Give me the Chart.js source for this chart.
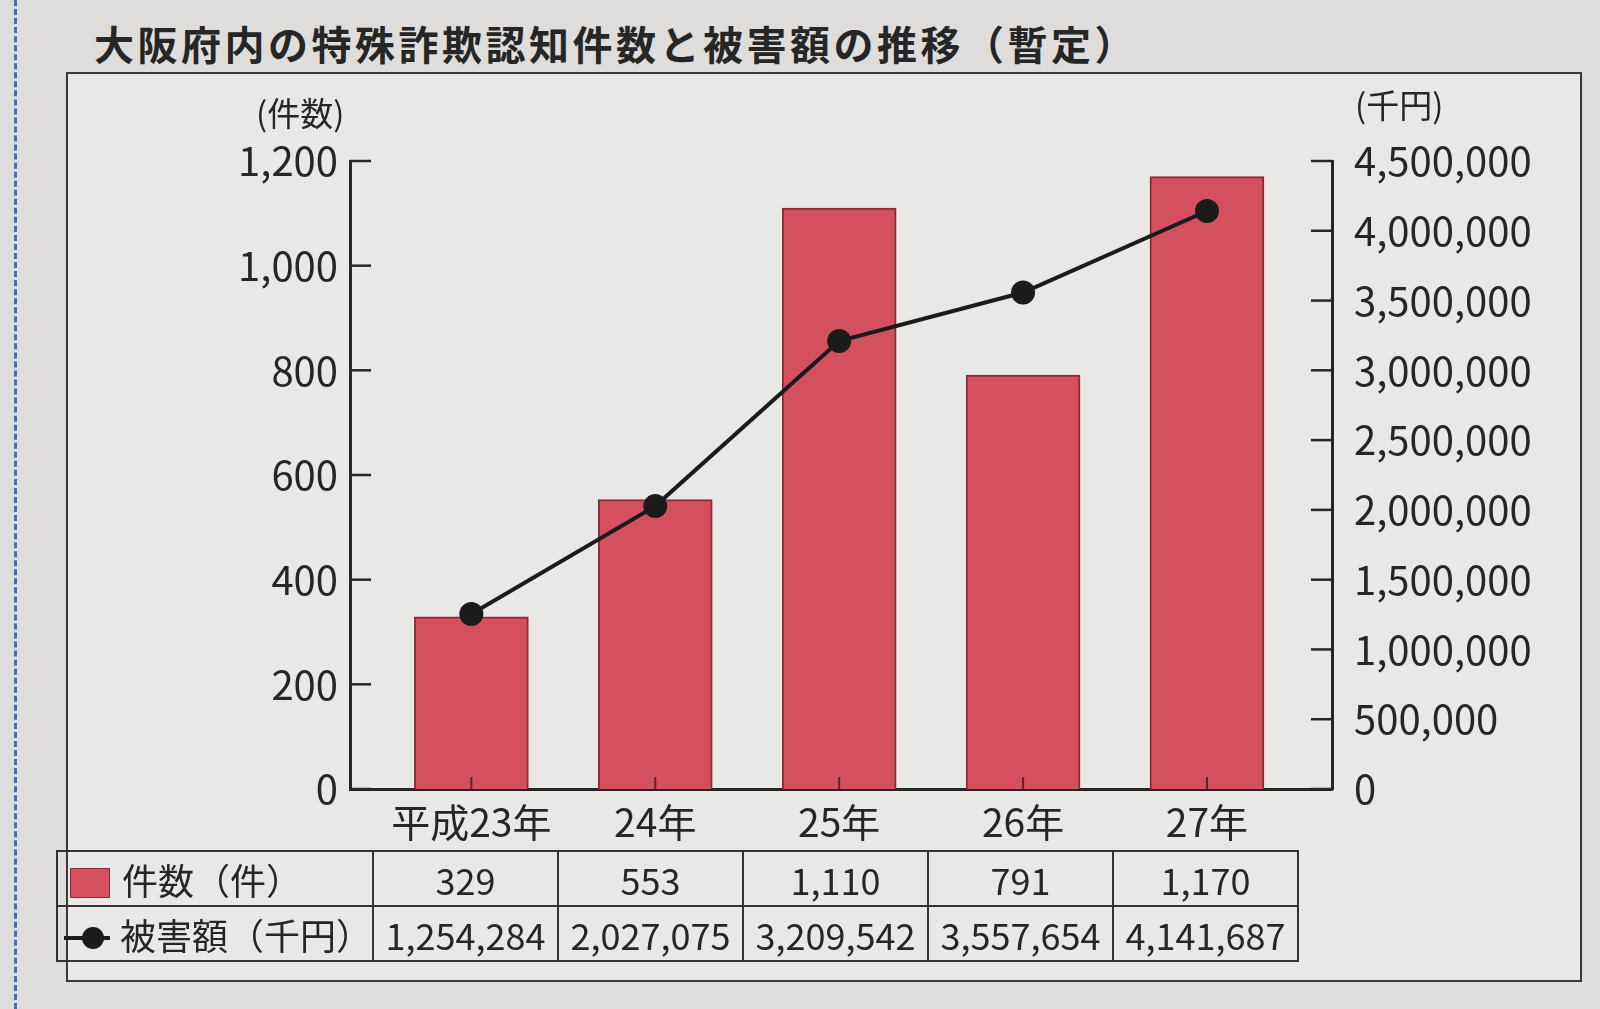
<!DOCTYPE html>
<html lang="ja">
<head>
    <meta charset="UTF-8">
    <title>大阪府内の特殊詐欺認知件数と被害額の推移</title>
    <script src="https://cdn.jsdelivr.net/npm/chart.js"></script>
    <style>
        html, body { margin: 0; padding: 0; }
        body {
            width: 1600px; height: 1009px; position: relative; overflow: hidden;
            background: #dedddb;
            font-family: 'Noto Sans CJK JP', 'Noto Sans', sans-serif;
            color: #262626;
        }
        #edge { position: absolute; left: 14px; top: 0; height: 1009px; border-left: 3px dashed #3a6fc4; }
        #title { position: absolute; left: 94px; top: 14px; font-size: 40px; font-weight: bold; letter-spacing: 3.5px; }
        #frame { position: absolute; left: 66px; top: 72px; width: 1512px; height: 906px; border: 2px solid #3a3a3a; background: #e8e8e6; }
        #wrap { position: absolute; left: 0; top: 0; }
        .unit { position: absolute; font-size: 33px; }
        #unitL { left: 256px; top: 88px; }
        #unitR { left: 1355px; top: 80px; }
        #datatable { position: absolute; left: 56px; top: 850px; border-collapse: collapse; font-size: 36px; }
        #datatable td { border: 2px solid #333; height: 53px; padding: 0; text-align: center; width: 183px; }
        #datatable td.head { width: 314px; text-align: left; white-space: nowrap; }
        .swatch { display: inline-block; width: 38px; height: 28px; background: #d4505f; border: 1px solid #8c2a35; margin: 0 12px 0 12px; vertical-align: -3px; }
        .lineKey { display: inline-block; position: relative; width: 46px; height: 4px; background: #1b1b1b; margin: 0 10px 0 6px; vertical-align: 10px; }
        .lineKey::after { content: ''; position: absolute; left: 18px; top: -9px; width: 22px; height: 22px; border-radius: 50%; background: #1b1b1b; }
    </style>
</head>
<body>
<div id="edge"></div>
<div id="title">大阪府内の特殊詐欺認知件数と被害額の推移（暫定）</div>
<div id="frame"></div>
<div id="wrap"><canvas id="chart" width="1600" height="1009"></canvas></div>
<div class="unit" id="unitL">(件数)</div>
<div class="unit" id="unitR">(千円)</div>
<table id="datatable"></table>

<script>
    const years = ['平成23年', '24年', '25年', '26年', '27年'];
    const counts = [329, 553, 1110, 791, 1170];
    const damage = [1254284, 2027075, 3209542, 3557654, 4141687];
    const countTicks = [0, 200, 400, 600, 800, 1000, 1200];
    const damageTicks = [0, 500000, 1000000, 1500000, 2000000, 2500000, 3000000, 3500000, 4000000, 4500000];

    const fmt = v => v.toLocaleString('en-US');
    const font = { family: "'Noto Sans CJK JP', 'Noto Sans', sans-serif", size: 40 };
    const ink = '#262626';

    // table under the chart
    const table = document.getElementById('datatable');
    const row1 = table.insertRow();
    const h1 = row1.insertCell();
    h1.className = 'head';
    h1.innerHTML = '<span class="swatch"></span>件数（件）';
    counts.forEach(v => { row1.insertCell().textContent = fmt(v); });
    const row2 = table.insertRow();
    const h2 = row2.insertCell();
    h2.className = 'head';
    h2.innerHTML = '<span class="lineKey"></span>被害額（千円）';
    damage.forEach(v => { row2.insertCell().textContent = fmt(v); });

    // short tick marks drawn inward from the axis lines
    const tickMarks = {
        id: 'tickMarks',
        afterDatasetsDraw(chart) {
            const { ctx, scales: { x, y, y2 } } = chart;
            ctx.save();
            ctx.lineWidth = 2.5;
            ctx.strokeStyle = '#262626';
            y.ticks.forEach(t => {
                const py = y.getPixelForValue(t.value);
                ctx.beginPath(); ctx.moveTo(y.right, py); ctx.lineTo(y.right + 21, py); ctx.stroke();
            });
            y2.ticks.forEach(t => {
                const py = y2.getPixelForValue(t.value);
                ctx.beginPath(); ctx.moveTo(y2.left - 21, py); ctx.lineTo(y2.left, py); ctx.stroke();
            });
            ctx.strokeStyle = '#6a1e28';
            ctx.lineWidth = 2;
            x.ticks.forEach(t => {
                const px = x.getPixelForValue(t.value);
                ctx.beginPath(); ctx.moveTo(px, x.top); ctx.lineTo(px, x.top - 12); ctx.stroke();
            });
            ctx.restore();
        }
    };

    const ctx = document.getElementById('chart').getContext('2d');
    new Chart(ctx, {
        data: {
            datasets: [
                {
                    type: 'line',
                    label: '被害額（千円）',
                    data: damage.map((v, i) => ({ x: i, y: v })),
                    yAxisID: 'y2',
                    order: 0,
                    borderColor: '#1b1b1b',
                    borderWidth: 4,
                    pointRadius: 12,
                    pointBackgroundColor: '#1b1b1b',
                    pointBorderWidth: 0,
                    tension: 0
                },
                {
                    type: 'bar',
                    label: '件数（件）',
                    data: counts.map((v, i) => ({ x: i, y: v })),
                    yAxisID: 'y',
                    order: 1,
                    backgroundColor: '#d4505f',
                    borderColor: '#8c2a35',
                    borderWidth: 2,
                    barThickness: 114
                }
            ]
        },
        options: {
            responsive: false,
            animation: false,
            layout: { padding: { top: 161, left: 0, right: 0, bottom: 0 } },
            plugins: { legend: { display: false }, tooltip: { enabled: false } },
            scales: {
                x: {
                    type: 'linear',
                    offset: false,
                    min: -0.66,
                    max: 4.68,
                    afterBuildTicks: s => { s.ticks = years.map((_, i) => ({ value: i })); },
                    afterFit: s => { s.height = 220; },
                    ticks: { callback: v => years[v], font: { family: font.family, size: 39 }, color: ink, padding: 10, maxRotation: 0 },
                    grid: { display: false, drawTicks: false },
                    border: { display: true, color: '#262626', width: 3 }
                },
                y: {
                    position: 'left',
                    min: 0,
                    max: 1200,
                    afterBuildTicks: s => { s.ticks = countTicks.map(v => ({ value: v })); },
                    afterFit: s => { s.width = 350; },
                    ticks: { callback: v => fmt(v), font: font, color: ink, padding: 12 },
                    grid: { display: false, drawTicks: false },
                    border: { display: true, color: '#262626', width: 3 }
                },
                y2: {
                    position: 'right',
                    min: 0,
                    max: 4500000,
                    afterBuildTicks: s => { s.ticks = damageTicks.map(v => ({ value: v })); },
                    afterFit: s => { s.width = 268; },
                    ticks: { callback: v => fmt(v), font: font, color: ink, padding: 22 },
                    grid: { display: false, drawTicks: false },
                    border: { display: true, color: '#262626', width: 3 }
                }
            }
        },
        plugins: [tickMarks]
    });
</script>
</body>
</html>
